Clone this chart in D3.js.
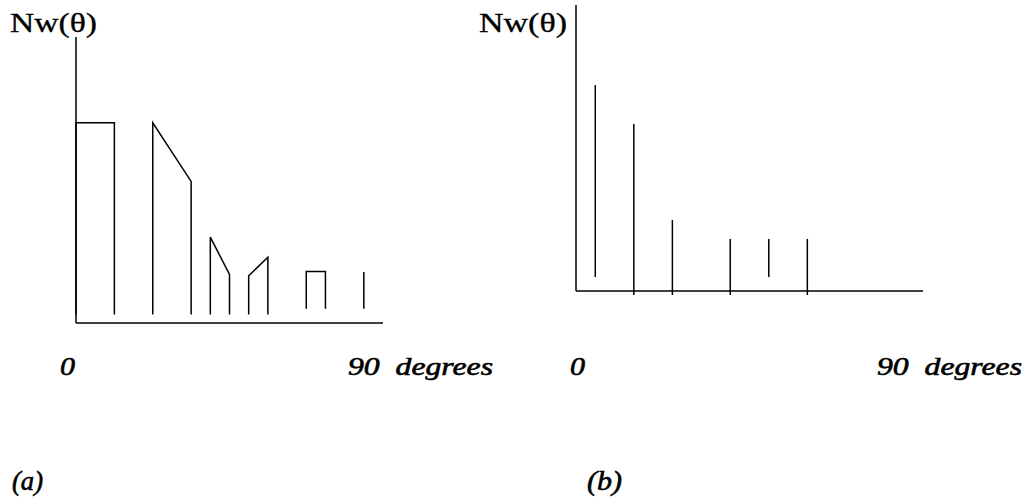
<!DOCTYPE html>
<html>
<head>
<meta charset="utf-8">
<script src="https://cdn.jsdelivr.net/npm/d3@7"></script>
<style>
  body { margin: 0; background: white; }
</style>
</head>
<body>
<div id="svgDiv"></div>
<script>
// panel (a) : blocks between start and end angle, height at left / right edge
var aStart  = [0, 22.5, 39.375, 50.625, 67.5, 84.375];
var aEnd    = [11.25, 33.75, 45, 56.25, 73.125, 84.375];
var aLeftH  = [7.0, 7.0, 3.0, 1.65, 1.8, 1.78];
var aRightH = [7.0, 4.95, 1.7, 2.3, 1.8, 1.78];
var aBase   = [0.3, 0.3, 0.3, 0.3, 0.5, 0.5];

// panel (b) : single spikes
var bAngle  = [5, 15, 25, 40, 50, 60];
var bTop    = [7.2, 5.84, 2.48, 1.82, 1.82, 1.82];
var bBottom = [0.49, -0.14, -0.14, -0.14, 0.49, -0.14];

var yLabel = "Nw(θ)";
var xLabels = ["0", "90  degrees"];
var panelNames = ["(a)", "(b)"];

var serif = "'Liberation Serif', 'Times New Roman', serif";

var svg = d3.select("#svgDiv").append("svg")
            .attr("width", 1026)
            .attr("height", 498);

//scales
var xA = d3.scaleLinear().domain([0, 90]).range([76, 383]);
var yA = d3.scaleLinear().domain([0, 10]).range([323, 37]);
var xB = d3.scaleLinear().domain([0, 90]).range([576, 923]);
var yB = d3.scaleLinear().domain([0, 10]).range([291, 5]);

function drawAxes(g, x, y){
  g.append("line")
   .attr("x1", x(0)).attr("x2", x(0))
   .attr("y1", y(0)).attr("y2", y(10))
   .attr("stroke", "black").attr("stroke-width", 1.5);
  g.append("line")
   .attr("x1", x(0)).attr("x2", x(90))
   .attr("y1", y(0)).attr("y2", y(0))
   .attr("stroke", "black").attr("stroke-width", 1.5);
}

var gA = svg.append("g").attr("id", "panelA");
var gB = svg.append("g").attr("id", "panelB");
drawAxes(gA, xA, yA);
drawAxes(gB, xB, yB);

//panel a shapes
gA.selectAll("path.block")
  .data(d3.range(aStart.length))
  .enter().append("path")
  .attr("class", "block")
  .attr("fill", "none")
  .attr("stroke", "black")
  .attr("stroke-width", 1.5)
  .attr("d", function(i){
    return d3.line()([
      [xA(aStart[i]), yA(aBase[i])],
      [xA(aStart[i]), yA(aLeftH[i])],
      [xA(aEnd[i]), yA(aRightH[i])],
      [xA(aEnd[i]), yA(aBase[i])]
    ]);
  });

//panel b spikes
gB.selectAll("line.spike")
  .data(d3.range(bAngle.length))
  .enter().append("line")
  .attr("class", "spike")
  .attr("x1", function(i){ return xB(bAngle[i]); })
  .attr("x2", function(i){ return xB(bAngle[i]); })
  .attr("y1", function(i){ return yB(bBottom[i]); })
  .attr("y2", function(i){ return yB(bTop[i]); })
  .attr("stroke", "black")
  .attr("stroke-width", 1.5);

//texts
function label(x, y, s, size, italic, len){
  var t = svg.append("text").attr("x", x).attr("y", y)
             .style("font-family", serif)
             .style("font-size", size + "px")
             .style("font-style", italic ? "italic" : "normal")
             .style("white-space", "pre")
             .attr("fill", "black")
             .attr("stroke", "black")
             .attr("stroke-width", italic ? 0.6 : 0.3)
             .text(s);
  if (len) t.attr("textLength", len).attr("lengthAdjust", "spacingAndGlyphs");
}
label(10, 32, yLabel, 27, false, 87);
label(479, 32, yLabel, 27, false, 88);

label(60, 375, xLabels[0], 25, true, 15);
label(348, 375, xLabels[1], 25, true, 145);
label(570, 375, xLabels[0], 25, true, 15);
label(877, 375, xLabels[1], 25, true, 145);

label(12, 490, panelNames[0], 27, true, 31);
label(587, 490, panelNames[1], 27, true, 35);
</script>
</body>
</html>
